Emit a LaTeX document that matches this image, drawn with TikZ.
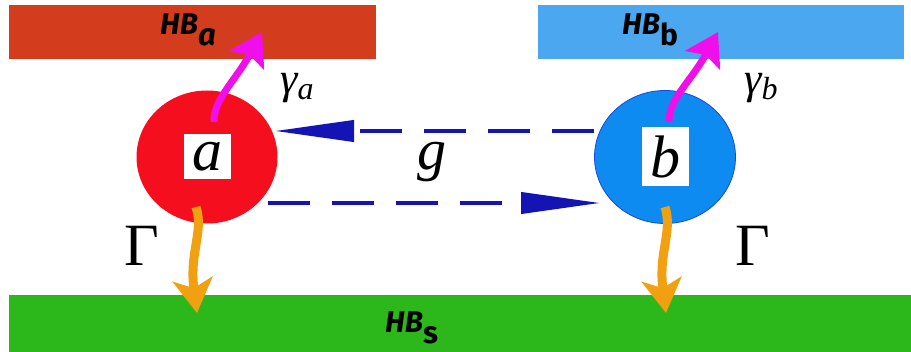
\documentclass[tikz,border=0pt]{standalone}
\usepackage{fontspec}
\newfontfamily\hbfont{Fira Sans}
\newfontfamily\symfont{Liberation Serif}
\usetikzlibrary{arrows.meta,shapes.geometric,calc}

\definecolor{barred}{HTML}{D33D1E}
\definecolor{barblue}{HTML}{4BA8F0}
\definecolor{bargreen}{HTML}{2CB71A}
\definecolor{dotred}{HTML}{F50E1E}
\definecolor{dotblue}{HTML}{0E8BF0}
\definecolor{dotedge}{HTML}{1A46E0}
\definecolor{emit}{HTML}{F00FEB}
\definecolor{decay}{HTML}{F0A010}
\definecolor{couple}{HTML}{1414B4}

\tikzset{
  bath/.style={draw=none, inner sep=0pt, anchor=north west},
  bathlabel/.style={anchor=base west, inner sep=0pt,
    font=\hbfont\bfseries\itshape\fontsize{30}{30}\selectfont},
  site/.style={ellipse, minimum width=141pt, minimum height=133pt, inner sep=0pt},
  tag/.style={fill=white, inner sep=0pt, minimum width=47pt,
    font=\symfont\itshape\fontsize{60}{60}\selectfont},
  emitarrow/.style={emit, line width=7pt,
    -{Stealth[length=32pt,width=39pt,inset=6pt]}},
  decayarrow/.style={decay, line width=9pt,
    -{Stealth[length=34pt,width=40pt,inset=9pt]}},
  hop/.style={couple, line width=4pt, dash pattern=on 42pt off 22pt,
    -{Triangle[length=79pt,width=21pt]}},
  bigsym/.style={inner sep=0pt, font=\symfont\fontsize{60}{60}\selectfont},
  ratesym/.style={inner sep=0pt, font=\symfont\itshape\fontsize{44}{44}\selectfont}
}

\begin{document}
\begin{tikzpicture}[x=1pt,y=1pt]
  \useasboundingbox (0,0) rectangle (911,-352);

  % heat baths
  \node[bath, fill=barred, minimum width=367pt, minimum height=54pt] (HBa) at (9,-5) {};
  \node[bath, fill=barblue, minimum width=366pt, minimum height=54pt] (HBb) at (538,-5) {};
  \node[bath, fill=bargreen, minimum width=902pt, minimum height=57pt] (HBs) at (9,-295) {};
  \node[bathlabel] (la) at (160,-35) {HB\raisebox{-11pt}{\fontsize{31}{31}\selectfont a}};
  \node[bathlabel] (lb) at (622,-35) {HB\raisebox{-11pt}{\fontsize{30}{30}\selectfont\upshape b}};
  \node[bathlabel] (ls) at (385,-333) {HB\raisebox{-11pt}{\fontsize{31}{31}\selectfont\upshape s}};

  % the two sites
  \node[site, fill=dotred] (a) at (207,-157) {};
  \node[site, fill=dotblue, draw=dotedge, line width=0.8pt] (b) at (665,-157) {};
  \node[tag, minimum height=45pt] (ta) at (a.center) {a};
  \node[tag, minimum height=59pt] (tb) at (b.center) {b};

  % coupling g between the sites
  \coordinate (bout) at ($(b.center)+(-71,26)$);
  \coordinate (ain) at ($(a.center)+(68,26)$);
  \coordinate (aout) at ($(a.center)+(61,-46)$);
  \coordinate (bin) at ($(b.center)+(-65,-46)$);
  \draw[hop] (bout) -- (ain);
  \draw[hop] (aout) -- (bin);
  \node[inner sep=0pt, font=\symfont\itshape\fontsize{58}{58}\selectfont] (g) at (432,-162) {g};

  % emission into the local baths
  \coordinate (ea) at ($(a.center)+(7,35)$);
  \coordinate (eb) at ($(b.center)+(4,35)$);
  \coordinate (ta1) at (262,-32);
  \coordinate (tb1) at (718,-32);
  \draw[emitarrow] (ea) .. controls (213,-100) and (236,-80) .. (ta1);
  \draw[emitarrow] (eb) .. controls (668,-100) and (692,-80) .. (tb1);
  \node[ratesym] (ga) at (297,-88) {γ\raisebox{-6pt}{\fontsize{32}{32}\selectfont a}};
  \node[ratesym] (gb) at (761,-88) {γ\raisebox{-6pt}{\fontsize{32}{32}\selectfont b}};

  % decay into the shared bath
  \coordinate (da) at ($(a.center)+(-11,-50)$);
  \coordinate (db) at ($(b.center)+(0,-50)$);
  \coordinate (sa) at (197,-313);
  \coordinate (sb) at (666,-313);
  \draw[decayarrow] (da) .. controls (204,-232) and (189,-252) .. (sa);
  \draw[decayarrow] (db) .. controls (673,-232) and (658,-252) .. (sb);
  \node[bigsym] (Ga) at (142,-246) {Γ};
  \node[bigsym] (Gb) at (753,-246) {Γ};
\end{tikzpicture}
\end{document}
